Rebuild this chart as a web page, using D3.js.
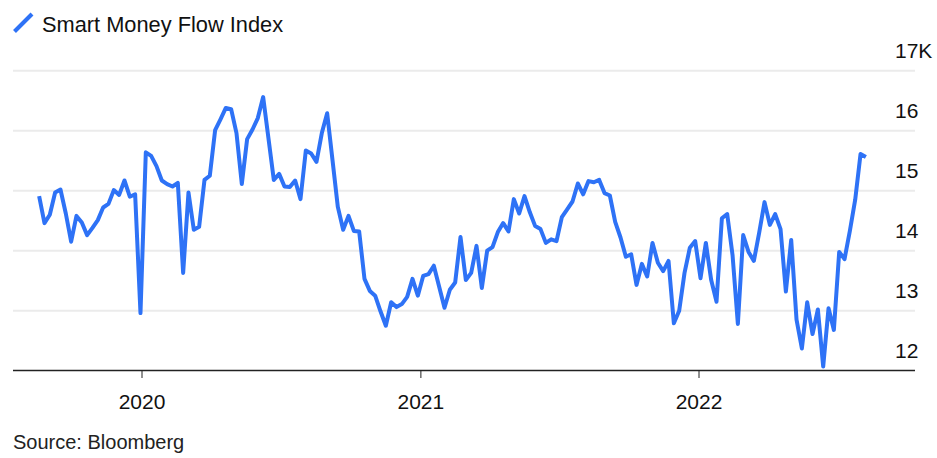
<!DOCTYPE html>
<html><head><meta charset="utf-8">
<script src="https://cdn.jsdelivr.net/npm/d3@7"></script>
<style>body{margin:0;background:#fff}svg{display:block}text{font-family:"Liberation Sans",Arial,sans-serif}</style>
</head><body><svg id="c" width="937" height="458"></svg>
<script>
const title = "Smart Money Flow Index";
const source = "Source: Bloomberg";
const startDate = "2019-08-19"; // weekly observations
const values = [14.91,14.46,14.60,14.97,15.02,14.62,14.15,14.58,14.47,14.26,
14.38,14.51,14.72,14.78,15.01,14.93,15.17,14.90,14.94,12.96,
15.64,15.58,15.41,15.17,15.11,15.07,15.13,13.63,14.97,14.35,
14.40,15.18,15.25,16.01,16.19,16.38,16.36,15.96,15.11,15.86,
16.02,16.21,16.56,15.87,15.18,15.28,15.07,15.06,15.17,14.86,
15.67,15.62,15.48,15.96,16.29,15.51,14.73,14.35,14.58,14.33,
14.32,13.53,13.33,13.25,12.99,12.75,13.14,13.06,13.11,13.23,
13.53,13.25,13.58,13.61,13.75,13.40,13.05,13.35,13.47,14.23,
13.51,13.63,14.08,13.38,14.00,14.06,14.31,14.46,14.32,14.86,
14.62,14.91,14.64,14.41,14.36,14.13,14.19,14.16,14.56,14.69,
14.82,15.12,14.94,15.16,15.14,15.18,14.96,14.92,14.48,14.22,
13.90,13.94,13.43,13.78,13.57,14.13,13.80,13.66,13.83,12.79,
13.00,13.63,14.05,14.16,13.54,14.13,13.51,13.15,14.54,14.61,
13.93,12.78,14.26,13.98,13.83,14.30,14.81,14.43,14.61,14.36,
13.32,14.18,12.85,12.37,13.14,12.61,13.02,12.07,13.04,12.68,
13.98,13.86,14.33,14.85,15.61,15.56];
const yTicks = [12,13,14,15,16,17];
const yTickLabels = ["12","13","14","15","16","17K"];
const xTickYears = [2020,2021,2022];

const parse = d3.timeParse("%Y-%m-%d");
const t0 = parse(startDate);
const data = values.map((v,i)=>({date:d3.timeDay.offset(t0,7*i), value:v}));

const svg = d3.select("#c");
const x = d3.scaleTime().domain([new Date(2020,0,1), new Date(2022,0,1)]).range([142,699]);
const y = d3.scaleLinear().domain([12,17]).range([370.7,70.7]);
const left = 13, right = 915;

// gridlines
svg.append("g").selectAll("line").data(yTicks.filter(d=>d>12)).join("line")
  .attr("x1",left).attr("x2",right).attr("y1",d=>y(d)).attr("y2",d=>y(d))
  .attr("stroke","#ebebeb").attr("stroke-width",2);

// y labels
svg.append("g").selectAll("text").data(yTicks).join("text")
  .attr("x",895).attr("y",d=>y(d)-13)
  .attr("font-size",21).attr("fill","#111")
  .text((d,i)=>yTickLabels[i]);

// line
svg.append("path").datum(data)
  .attr("d", d3.line().x(d=>x(d.date)).y(d=>y(d.value)))
  .attr("fill","none").attr("stroke","#2e72f6").attr("stroke-width",4)
  .attr("stroke-linejoin","round").attr("stroke-linecap","butt");

// x axis
svg.append("line").attr("x1",left).attr("x2",right).attr("y1",370.5).attr("y2",370.5)
  .attr("stroke","#222").attr("stroke-width",1.5);
const xt = xTickYears.map(yr=>new Date(yr,0,1));
svg.append("g").selectAll("line").data(xt).join("line")
  .attr("x1",d=>x(d)).attr("x2",d=>x(d)).attr("y1",370.5).attr("y2",378)
  .attr("stroke","#222").attr("stroke-width",1);
svg.append("g").selectAll("text").data(xt).join("text")
  .attr("x",d=>x(d)).attr("y",408.5).attr("text-anchor","middle")
  .attr("font-size",21).attr("fill","#111").text(d=>d3.timeFormat("%Y")(d));

// legend / title
svg.append("line").attr("x1",14.5).attr("y1",31.5).attr("x2",32).attr("y2",14)
  .attr("stroke","#2e72f6").attr("stroke-width",4);
svg.append("text").attr("x",42).attr("y",31.5).attr("font-size",21.8).attr("fill","#111").text(title);

// source
svg.append("text").attr("x",13).attr("y",449).attr("font-size",20).attr("fill","#222").text(source);
</script>
</body></html>
